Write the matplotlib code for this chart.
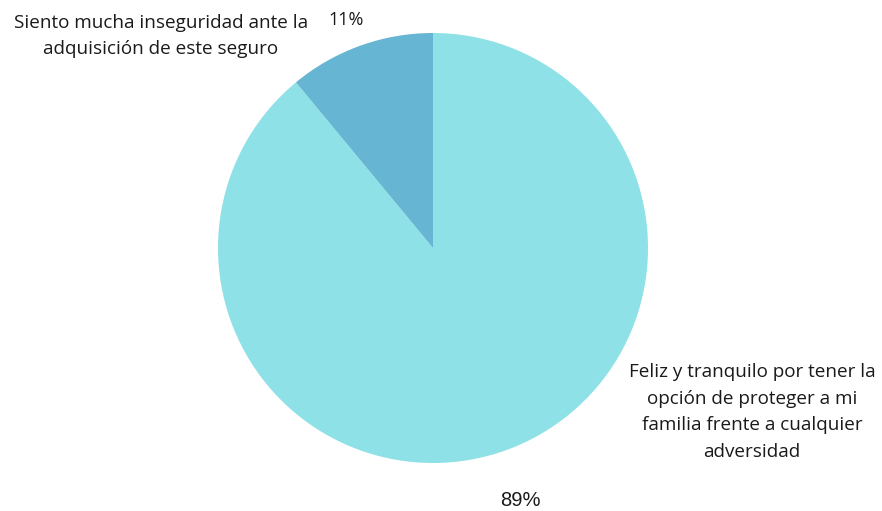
import matplotlib
matplotlib.use("Agg")
import matplotlib.pyplot as plt

labels = ["Feliz y tranquilo por tener la\nopción de proteger a mi\nfamilia frente a cualquier\nadversidad",
          "Siento mucha inseguridad ante la\nadquisición de este seguro"]
values = [89, 11]
pct_labels = ["89%", "11%"]
colors = ["#8DE1E7", "#66B5D2"]

W, H = 882, 511
fig = plt.figure(figsize=(W / 100, H / 100), dpi=100)
cx, cy, r = 433, 248, 215
ax = fig.add_axes([(cx - r) / W, (H - cy - r) / H, 2 * r / W, 2 * r / H])
ax.pie(values, colors=colors, startangle=90, counterclock=False,
       wedgeprops=dict(linewidth=0))
ax.set_aspect("equal")
ax.set_xlim(-1, 1)
ax.set_ylim(-1, 1)
ax.axis("off")

tc = "#1a1a1a"
font = "Open Sans"
fig.text(752 / W, 1 - 412 / H, labels[0], ha="center", va="center",
         fontsize=13.6, family=font, color=tc, linespacing=1.62)
fig.text(161 / W, 1 - 36 / H, labels[1], ha="center", va="center",
         fontsize=13.6, family=font, color=tc, linespacing=1.62)
fig.text(346 / W, 1 - 20 / H, pct_labels[1], ha="center", va="center",
         fontsize=13, family=font, color=tc)
fig.text(520 / W, 1 - 500 / H, pct_labels[0], ha="center", va="center",
         fontsize=14.5, family="Liberation Sans", color=tc)

fig.savefig("out.png", dpi=100)
